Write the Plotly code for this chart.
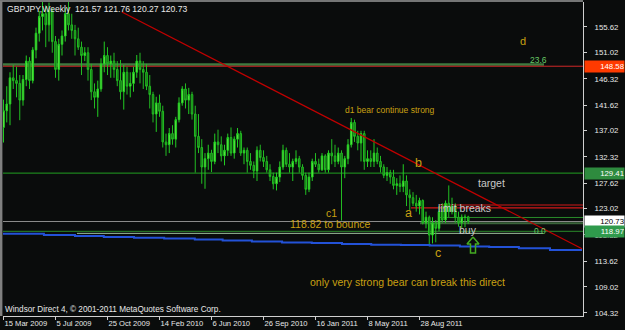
import plotly.graph_objects as go
import pandas as pd

# ---------------- data ----------------
start_date = "2009-03-15"
n_bars = 144
bar_dates = pd.date_range(start_date, periods=n_bars, freq="7D")

opens = [137.6,140.6,141.8,146.5,146.0,145.5,142.5,146.2,149.5,146.0,151.5,154.5,157.5,158.0,156.0,158.5,153.0,148.0,152.5,154.0,
         158.0,156.0,155.0,153.5,152.0,150.5,151.0,148.0,144.0,143.0,144.5,149.0,150.5,149.0,149.5,148.0,146.0,144.0,147.5,145.0,
         145.5,147.5,149.5,148.0,147.5,145.0,143.5,140.0,142.0,140.5,135.0,134.5,136.5,135.5,139.0,142.0,144.5,142.5,143.5,140.0,
         136.0,134.0,130.5,132.0,133.0,131.5,135.0,134.5,132.5,133.5,135.8,133.0,135.5,136.5,133.0,133.5,131.5,130.8,129.8,133.5,
         132.2,131.5,130.0,128.8,127.5,128.7,130.5,133.5,131.0,130.5,131.5,132.0,130.5,129.0,126.5,128.7,131.5,131.0,130.0,132.5,
         130.0,133.0,132.5,131.5,133.0,130.5,132.0,134.5,138.5,136.0,134.8,136.5,131.5,132.0,131.5,133.0,131.5,130.5,129.0,129.5,
         128.7,127.2,127.5,127.0,128.0,125.5,125.0,124.0,123.5,124.5,120.5,121.5,118.3,120.5,119.5,122.5,121.0,124.0,122.5,123.5,
         121.5,120.5,121.5,121.57]
highs = [142.6,145.0,147.5,148.8,148.5,147.0,147.0,150.5,150.2,152.0,155.5,158.5,160.5,159.5,160.0,159.0,154.0,153.5,155.0,159.0,
         160.5,158.0,156.0,155.5,153.0,152.0,152.0,149.0,145.5,146.0,150.0,153.0,152.0,150.5,151.0,149.5,149.7,148.8,148.5,147.5,
         148.5,150.6,151.0,149.5,149.0,147.0,144.0,143.1,143.5,141.5,136.5,137.5,138.0,139.5,143.0,145.0,145.5,144.7,144.0,141.5,
         140.0,135.5,133.0,134.5,133.6,136.5,137.2,136.0,134.5,136.5,137.6,136.0,137.5,137.0,134.0,134.0,133.0,131.5,134.2,134.5,
         133.5,132.5,131.0,129.5,129.5,131.5,134.5,134.0,133.0,132.0,133.5,132.5,131.0,129.5,129.5,132.0,133.0,132.0,133.0,132.8,
         133.5,135.5,134.5,134.0,133.5,132.5,135.5,139.3,139.0,137.0,137.0,137.0,133.5,133.5,135.5,134.0,132.5,131.0,130.5,130.0,
         130.0,128.5,129.0,131.0,129.0,126.5,126.0,125.5,125.0,124.7,122.5,121.8,121.5,121.0,123.5,124.0,124.5,127.2,125.0,124.0,
         122.5,122.0,122.0,121.76]
lows = [134.9,138.5,138.0,144.5,143.0,138.9,141.5,145.0,144.5,145.5,150.0,153.0,155.0,152.0,153.0,151.0,146.5,146.0,150.5,153.0,
        155.0,153.5,150.5,151.5,147.0,149.5,146.0,142.5,141.0,139.5,144.0,147.5,147.0,146.5,146.5,145.0,142.6,140.8,143.5,143.0,
        144.0,146.5,145.5,144.5,144.3,141.0,138.5,136.8,139.5,134.0,132.5,133.0,134.5,134.0,138.5,141.5,141.0,140.0,139.0,129.5,
        133.0,127.5,126.6,130.0,129.6,131.0,133.0,131.5,130.8,132.5,132.5,132.0,134.0,132.5,131.0,129.5,130.0,128.5,128.0,131.5,
        130.5,129.5,128.0,126.5,126.3,127.8,130.0,130.5,129.5,128.0,131.0,129.5,128.2,125.5,126.0,128.0,130.5,129.5,129.8,129.5,
        129.5,131.0,130.5,131.0,120.9,128.5,131.0,134.0,135.0,133.5,131.5,130.0,130.5,130.5,130.5,131.0,129.5,128.5,128.0,127.5,
        126.5,125.5,126.0,126.0,123.5,122.8,123.5,122.5,122.0,120.2,119.5,116.3,116.8,117.0,119.0,120.5,120.5,121.5,122.0,120.5,
        119.8,119.5,119.7,120.27]
closes = [140.6,141.8,146.5,146.0,145.5,142.5,146.2,149.5,146.0,151.5,154.5,157.5,158.0,156.0,158.5,153.0,148.0,152.5,154.0,158.0,
          156.0,155.0,153.5,152.0,150.5,151.0,148.0,144.0,143.0,144.5,149.0,150.5,149.0,149.5,148.0,146.0,144.0,147.5,145.0,145.5,
          147.5,149.5,148.0,147.5,145.0,143.5,140.0,142.0,140.5,135.0,134.5,136.5,135.5,139.0,142.0,144.5,142.5,143.5,140.0,136.0,
          134.0,130.5,132.0,133.0,131.5,135.0,134.5,132.5,133.5,135.8,133.0,135.5,136.5,133.0,133.5,131.5,130.8,129.8,133.5,132.2,
          131.5,130.0,128.8,127.5,128.7,130.5,133.5,131.0,130.5,131.5,132.0,130.5,129.0,126.5,128.7,131.5,131.0,130.0,132.5,130.0,
          133.0,132.5,131.5,133.0,130.5,132.0,134.5,138.5,136.0,134.8,136.5,131.5,132.0,131.5,133.0,131.5,130.5,129.0,129.5,128.7,
          127.2,127.5,127.0,128.0,125.5,125.0,124.0,123.5,124.5,120.5,121.5,118.3,120.5,119.5,122.5,121.0,124.0,122.5,123.5,121.5,
          120.5,121.5,121.5,120.73]

x_tick_dates = ["2009-03-15", "2009-07-05", "2009-10-25", "2010-02-14", "2010-06-06",
                "2010-09-26", "2011-01-16", "2011-05-08", "2011-08-28"]
x_tick_labels = ["15 Mar 2009", "5 Jul 2009", "25 Oct 2009", "14 Feb 2010", "6 Jun 2010",
                 "26 Sep 2010", "16 Jan 2011", "8 May 2011", "28 Aug 2011"]
y_tick_vals = [155.62, 151.02, 146.32, 141.62, 137.02, 132.32, 127.62, 123.02, 118.32, 113.62, 109.02, 104.32]

# stepped blue line (start dates of each step, level)
blue_dates = ["2009-03-10", "2009-06-10", "2009-08-16", "2009-10-17", "2009-12-21", "2010-02-24", "2010-05-01",
              "2010-06-30", "2010-09-01", "2010-11-05", "2011-01-08", "2011-03-14", "2011-05-16", "2011-07-19",
              "2011-09-19", "2011-11-23", "2012-01-25", "2012-03-29", "2012-06-04", "2012-08-12"]
blue_vals = [118.54, 118.32, 118.14, 117.96, 117.82, 117.66, 117.48, 117.34, 117.16, 116.98, 116.86, 116.71,
             116.57, 116.50, 116.41, 116.25, 116.17, 115.91, 115.61, 115.61]

trend_dates = ["2009-11-25", "2012-08-12"]
trend_vals = [158.3, 115.85]

header_text = "GBPJPY,Weekly  121.57 121.76 120.27 120.73"
copyright_text = "Windsor Direct 4, \u00a9 2001-2011 MetaQuotes Software Corp."

# ---------------- geometry helpers ----------------
W, H = 625, 330
PL, PR, PT, PB = 3, 583, 2, 316
PX_PER_WEEK = 3.25
y_range = [103.78, 160.10]
x_start = pd.Timestamp(start_date) - pd.Timedelta(days=1.1)
x_end = x_start + pd.Timedelta(days=(PR - PL) / PX_PER_WEEK * 7)


def px_date(px):
    return x_start + pd.Timedelta(days=(px - PL) / PX_PER_WEEK * 7)


def py_price(py):
    return y_range[1] - (py - PT) / (PB - PT) * (y_range[1] - y_range[0])


def ax(px):
    return (px - PL) / (PR - PL)


def ay(py):
    return (PB - py) / (PB - PT)


SANS = "Liberation Sans, Arial, sans-serif"
GOLD = "#c9a012"
SILVER = "#c8c8c8"

fig = go.Figure()

# horizontal levels: (price, x_from_px, x_to_px, color, width)
hlines = [
    (148.91, PL, 544, "#3f7a3f", 2.5),
    (148.58, PL, PR, "#d02828", 1),
    (129.41, PL, PR, "#22a022", 1),
    (123.69, 440, PR, "#d01818", 1.2),
    (123.19, 411, PR, "#d01818", 1.2),
    (121.45, 440, PR, "#2a8a2a", 1),
    (120.73, PL, PR, "#8a8a8a", 1),
    (120.42, 420, PR, "#3a643a", 2),
    (118.97, PL, PR, "#2a8a2a", 1),
    (118.60, 77, 543, "#9cbf9c", 1),
]
for lvl, xa, xb, col, wd in hlines:
    fig.add_shape(type="line", xref="x", yref="y", x0=px_date(xa), x1=px_date(xb), y0=lvl, y1=lvl,
                  line=dict(color=col, width=wd), layer="below")

fig.add_trace(go.Scatter(x=blue_dates, y=blue_vals, mode="lines", line=dict(color="#2352d8", width=2, shape="hv"),
                         hoverinfo="skip", showlegend=False))

fig.add_trace(go.Candlestick(
    x=bar_dates, open=opens, high=highs, low=lows, close=closes,
    increasing=dict(line=dict(color="#22cc22", width=1), fillcolor="#72f04e"),
    decreasing=dict(line=dict(color="#22bb22", width=1), fillcolor="#156d15"),
    whiskerwidth=0, showlegend=False, hoverinfo="skip"))

fig.add_trace(go.Scatter(x=trend_dates, y=trend_vals, mode="lines", line=dict(color="#c00000", width=1.3),
                         hoverinfo="skip", showlegend=False))

# buy arrow outline (pixel outline converted to data space)
arrow_px = [(473, 237), (467, 244), (470.5, 244), (470.5, 253), (475.5, 253), (475.5, 244), (479, 244), (473, 237)]
fig.add_trace(go.Scatter(x=[px_date(p[0]) for p in arrow_px], y=[py_price(p[1]) for p in arrow_px], mode="lines",
                         line=dict(color="#44aa22", width=1.5), hoverinfo="skip", showlegend=False))

annots = []


def txt(text, px, py, size, color, family=SANS, anchor="left"):
    annots.append(dict(text=text, x=ax(px), y=ay(py), xref="paper", yref="paper", xanchor=anchor, yanchor="middle",
                       showarrow=False, font=dict(size=size, color=color, family=family)))


txt(header_text, 5, 9, 8.6, "#e8e8e8")
txt(copyright_text, 3, 309, 8.2, "#e8e8e8")
txt("d", 518, 41, 11, GOLD)
txt("23.6", 528, 60, 8.5, "#66c866")
txt("d1 bear continue strong", 343, 110, 8.5, GOLD)
txt("b", 413, 163, 12.5, GOLD)
txt("target", 476, 183, 10.5, SILVER)
txt("limit breaks", 436, 208, 10.5, SILVER)
txt("a", 403, 213, 12.5, GOLD)
txt("c1", 324, 213, 10.5, GOLD)
txt("118.82 to bounce", 288, 224, 10.5, GOLD)
txt("buy", 457, 230, 10.5, SILVER)
txt("0.0", 532, 231, 8.5, "#66c866")
txt("c", 433, 253, 12.5, GOLD)
txt("only very strong bear can break this direct", 308, 282, 10.5, GOLD)

# right-axis price boxes
for val, bg, fg in [(148.58, "#ff3a00", "#ffffff"), (129.41, "#2e8b3e", "#ffffff"),
                    (120.73, "#ffffff", "#000000"), (118.97, "#2f9a4c", "#ffffff")]:
    annots.append(dict(text=f"{val:.2f}", x=1, y=val, xref="paper", yref="y", xanchor="left", yanchor="middle",
                       xshift=1, showarrow=False, width=39, height=11, bgcolor=bg, borderpad=0, align="right",
                       font=dict(size=7.8, color=fg, family=SANS)))

shapes_frame = [
    dict(type="line", xref="paper", yref="paper", x0=-PL / (PR - PL), x1=1, y0=1.003, y1=1.003,
         line=dict(color="#9a9a9a", width=1.5)),
    dict(type="rect", xref="paper", yref="paper", x0=-PL / (PR - PL), x1=-0.6 / (PR - PL), y0=0, y1=1.003,
         fillcolor="#808080", line=dict(width=0)),
]
for s in shapes_frame:
    fig.add_shape(**s)

fig.update_layout(
    width=W, height=H,
    margin=dict(l=PL, r=W - PR, t=PT, b=H - PB),
    paper_bgcolor="#0a0c0c", plot_bgcolor="#0a0c0c",
    showlegend=False,
    annotations=annots,
    xaxis=dict(type="date", range=[x_start, x_end], rangeslider=dict(visible=False), automargin=False,
               tickvals=x_tick_dates, ticktext=x_tick_labels, ticks="outside", ticklen=3, tickcolor="#d0d0d0",
               tickangle=0, showline=True, linecolor="#d0d0d0", linewidth=1, showgrid=False, zeroline=False,
               ticklabelposition="outside right", tickfont=dict(size=7.6, color="#e8e8e8", family=SANS)),
    yaxis=dict(side="right", range=y_range, tickvals=y_tick_vals, ticktext=[f"{v:.2f}" for v in y_tick_vals],
               automargin=False, ticklabelstandoff=6,
               ticks="outside", ticklen=3, tickcolor="#d0d0d0", showline=True, linecolor="#d0d0d0", linewidth=1,
               showgrid=False, zeroline=False, tickfont=dict(size=7.8, color="#e8e8e8", family=SANS)),
)

fig.write_html("out.html")
